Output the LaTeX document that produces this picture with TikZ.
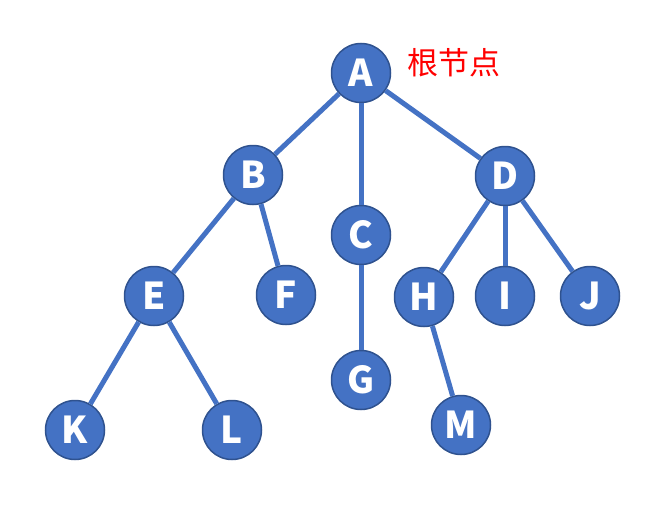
\documentclass[tikz,border=0pt]{standalone}
\usepackage{fontspec}
\setmainfont{Open Sans}
\newfontfamily\cjk{Noto Sans CJK SC}
\definecolor{nodefill}{HTML}{4472C4}
\definecolor{nodeedge}{HTML}{2F528F}
\begin{document}
\begin{tikzpicture}[x=1pt,y=-1pt,
  tn/.style={circle, fill=nodefill, draw=nodeedge, line width=1.5pt, minimum size=59pt, inner sep=0pt,
    text=white, font=\cjk\bfseries\fontsize{37}{37}\selectfont},
  edge/.style={draw=nodefill, line width=5pt}]
\useasboundingbox (0,0) rectangle (666,527);
\node[tn] (A) at (361,73) {A};
\node[tn] (B) at (253,175) {B};
\node[tn] (C) at (361,235) {C};
\node[tn] (D) at (505,176) {D};
\node[tn] (E) at (154,296) {E};
\node[tn] (F) at (286,295) {F};
\node[tn] (G) at (361,380) {G};
\node[tn] (H) at (424,297) {H};
\node[tn] (I) at (505,296) {I};
\node[tn] (J) at (590,296) {J};
\node[tn] (K) at (75,430) {K};
\node[tn] (L) at (232,430) {L};
\node[tn] (M) at (461,425) {M};
\node[text=red, font=\cjk\fontsize{31}{31}\selectfont, anchor=west] (lbl) at (404,63) {根节点};
\draw[edge] (A) -- (B);
\draw[edge] (A) -- (C);
\draw[edge] (A) -- (D);
\draw[edge] (B) -- (E);
\draw[edge] (B) -- (F);
\draw[edge] (C) -- (G);
\draw[edge] (D) -- (H);
\draw[edge] (D) -- (I);
\draw[edge] (D) -- (J);
\draw[edge] (E) -- (K);
\draw[edge] (E) -- (L);
\draw[edge] (H) -- (M);
\end{tikzpicture}
\end{document}
